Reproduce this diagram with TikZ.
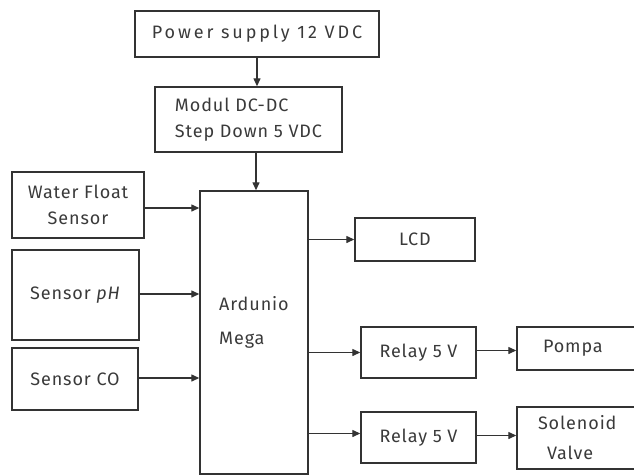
\documentclass[tikz,border=0pt]{standalone}
\usepackage{fontspec}
\setmainfont{Fira Sans}[LetterSpace=5]
\usetikzlibrary{arrows.meta}
\definecolor{ink}{HTML}{333333}
\definecolor{txt}{HTML}{3A3A3A}
\begin{document}
\begin{tikzpicture}[x=1pt,y=-1pt,
  box/.style={draw=ink,line width=1.4pt,rectangle,inner sep=0pt,text=txt,font=\fontsize{18}{26}\selectfont},
  arr/.style={draw=ink,line width=1.3pt,-{Triangle[length=8pt,width=7pt]}}]
\useasboundingbox (0,0) rectangle (634,475);
\node[box,minimum width=244pt,minimum height=46pt] (ps) at (257,34) {\addfontfeature{LetterSpace=16}Power supply 12 VDC};
\node[box,minimum width=187pt,minimum height=65pt,align=left] (dc) at (248.5,119.5) {Modul DC-DC\\Step Down 5 VDC};
\node[box,minimum width=108pt,minimum height=283pt] (ard) at (254,332.5) {};
\node[text=txt,font=\fontsize{18}{34}\selectfont,align=left,anchor=west,inner sep=0pt] (ardt) at (219,322) {Ardunio\\Mega};
\node[box,minimum width=132pt,minimum height=66pt,align=center] (wf) at (78,205) {Water Float\\Sensor};
\node[box,minimum width=127pt,minimum height=90pt] (ph) at (75.5,295) {Sensor \textit{pH}};
\node[box,minimum width=126pt,minimum height=62pt] (co) at (75,379) {Sensor CO};
\node[box,minimum width=120pt,minimum height=43pt] (lcd) at (415,239.5) {LCD};
\node[box,minimum width=115pt,minimum height=51pt] (r1) at (418.5,352.5) {Relay 5 V};
\node[box,minimum width=115pt,minimum height=51pt] (r2) at (418.5,437.5) {Relay 5 V};
\node[box,minimum width=123pt,minimum height=43pt,text width=117pt,align=left] (pompa) at (578.5,348.5) {\hspace*{23pt}Pompa};
\node[box,minimum width=123pt,minimum height=62pt,text width=117pt,align=left,font=\fontsize{18}{30}\selectfont] (sol) at (578.5,438) {\hspace*{18pt}Solenoid\\\hspace*{27pt}Valve};
\draw[arr] (ps.south) -- (ps.south |- dc.north);
\draw[arr] ([xshift=7.5pt]dc.south) -- ([xshift=7.5pt]dc.south |- ard.north);
\draw[arr] ([yshift=-3pt]wf.east) -- ([yshift=-3pt]wf.east -| ard.west);
\draw[arr] ([yshift=1pt]ph.east) -- ([yshift=1pt]ph.east -| ard.west);
\draw[arr] ([yshift=1pt]co.east) -- ([yshift=1pt]co.east -| ard.west);
\draw[arr] (ard.east |- lcd.west) -- (lcd.west);
\draw[arr] (ard.east |- r1.west) -- (r1.west);
\draw[arr] ([yshift=4pt]ard.east |- r2.west) -- ([yshift=4pt]r2.west);
\draw[arr] ([yshift=2pt]r1.east) -- ([yshift=2pt]r1.east -| pompa.west);
\draw[arr] ([yshift=2pt]r2.east) -- ([yshift=2pt]r2.east -| sol.west);
\end{tikzpicture}
\end{document}
